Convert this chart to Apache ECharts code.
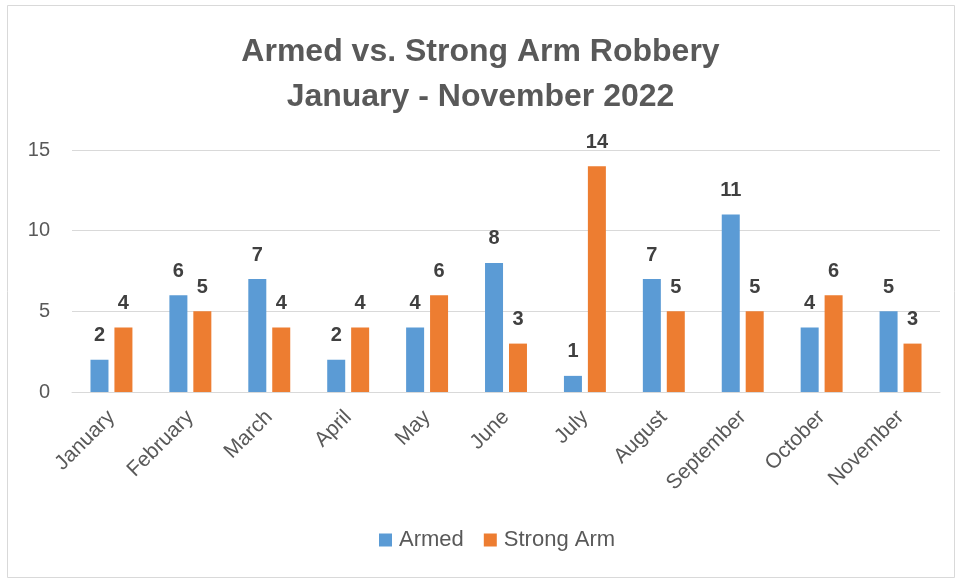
<!DOCTYPE html>
<html><head><meta charset="utf-8">
<script src="https://cdn.jsdelivr.net/npm/echarts@6/dist/echarts.min.js"></script>
<style>html,body{margin:0;padding:0;background:#fff}#c{width:961px;height:581px}</style>
</head><body><div id="c"></div>
<script>
const categories = ["January","February","March","April","May","June","July","August","September","October","November"];
const armed = [2,6,7,2,4,8,1,7,11,4,5];
const strongArm = [4,5,4,4,6,3,14,5,5,6,3];
const yTicks = [0,5,10,15];

const chart = echarts.init(document.getElementById('c'));
const lbl = {show:true, position:'top', distance:14, color:'#404040', fontWeight:'bold', fontSize:20, fontFamily:'Liberation Sans'};
chart.setOption({
  animation:false,
  backgroundColor:'#fff',
  graphic:[{type:'rect', shape:{x:7.5,y:5.5,width:947,height:572}, style:{fill:'none', stroke:'#d9d9d9', lineWidth:1}}],
  title:{
    text:'Armed vs. Strong Arm Robbery\nJanuary - November 2022',
    left:'center', top:25,
    textStyle:{fontFamily:'Liberation Sans', fontWeight:'bold', fontSize:32, color:'#595959', lineHeight:45}
  },
  legend:{
    data:['Armed','Strong Arm'], bottom:25, left:374,
    itemWidth:13, itemHeight:13, itemGap:20, icon:'rect',
    textStyle:{fontFamily:'Liberation Sans', fontSize:22, color:'#595959', padding:[0,0,0,2]}
  },
  grid:{left:72, right:21, top:150, bottom:189},
  xAxis:{
    type:'category', data:categories,
    axisLine:{lineStyle:{color:'#d9d9d9'}}, axisTick:{show:false},
    axisLabel:{rotate:45, interval:0, color:'#595959', fontSize:21, fontFamily:'Liberation Sans', margin:22}
  },
  yAxis:{
    type:'value', min:yTicks[0], max:yTicks[yTicks.length-1], interval:5,
    axisLine:{show:false}, axisTick:{show:false},
    splitLine:{lineStyle:{color:'#d9d9d9'}},
    axisLabel:{color:'#595959', fontSize:20, fontFamily:'Liberation Sans', margin:22}
  },
  series:[
    {name:'Armed', type:'bar', data:armed, itemStyle:{color:'#5B9BD5'}, barWidth:18, barGap:'33%', label:lbl},
    {name:'Strong Arm', type:'bar', data:strongArm, itemStyle:{color:'#ED7D31'}, barWidth:18, label:lbl}
  ]
});
</script></body></html>
